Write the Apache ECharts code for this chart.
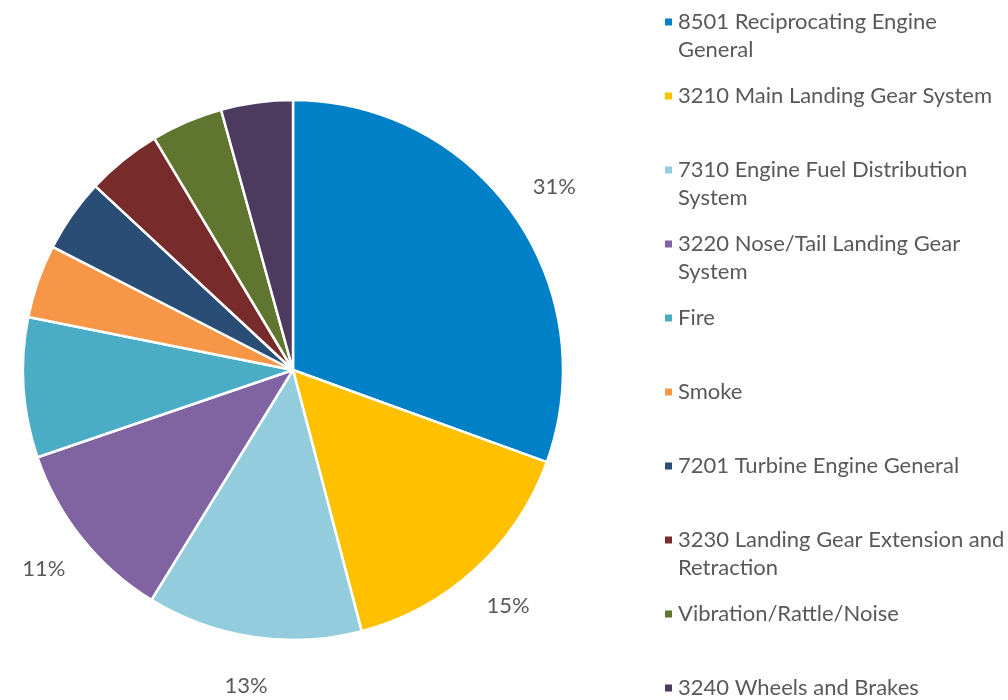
<!DOCTYPE html>
<html>
<head>
<meta charset="utf-8">
<script src="https://cdn.jsdelivr.net/npm/echarts@6/dist/echarts.min.js"></script>
<style>
  html, body { margin: 0; padding: 0; background: #fff; }
  #chart { width: 1008px; height: 700px; }
</style>
</head>
<body>
<div id="chart"></div>
<script>
const categories = [
  '8501 Reciprocating Engine General',
  '3210 Main Landing Gear System',
  '7310 Engine Fuel Distribution System',
  '3220 Nose/Tail Landing Gear System',
  'Fire',
  'Smoke',
  '7201 Turbine Engine General',
  '3230 Landing Gear Extension and Retraction',
  'Vibration/Rattle/Noise',
  '3240 Wheels and Brakes'
]
const shares = [30.6, 15.4, 12.9, 11.0, 8.4, 4.4, 4.4, 4.5, 4.3, 4.3]
const colors = ['#0080C6', '#FFC000', '#93CDDD', '#8064A2', '#4BACC6', '#F79646', '#2A4D75', '#772B2A', '#5F7530', '#4D3A5F']
// only the big slices carry a label
const labelled = [true, true, true, true, false, false, false, false, false, false]
// where the legend text wraps
const legendLines = [
  ['8501 Reciprocating Engine', 'General'],
  ['3210 Main Landing Gear System'],
  ['7310 Engine Fuel Distribution', 'System'],
  ['3220 Nose/Tail Landing Gear', 'System'],
  ['Fire'],
  ['Smoke'],
  ['7201 Turbine Engine General'],
  ['3230 Landing Gear Extension and', 'Retraction'],
  ['Vibration/Rattle/Noise'],
  ['3240 Wheels and Brakes']
]

const font = 'Lato, "Open Sans", sans-serif'
const center = [293, 370]
const chart = echarts.init(document.getElementById('chart'))

const option = {
  animation: false,
  legend: {
    orient: 'vertical',
    left: 658,
    top: -25,
    height: 900,
    icon: 'rect',
    itemWidth: 9,
    itemHeight: 9,
    itemGap: -10,
    selectedMode: false,
    // three lines per item, the first line of the name sits in the middle next to the marker
    formatter: function (name) {
      const lines = legendLines[categories.indexOf(name)]
      return ' \n' + lines[0] + '\n' + (lines[1] || ' ')
    },
    textStyle: {
      fontFamily: font,
      fontSize: 22,
      color: '#595959',
      lineHeight: 28
    }
  },
  series: [
    {
      type: 'pie',
      center: center,
      radius: 270,
      startAngle: 90,
      clockwise: true,
      silent: true,
      itemStyle: {
        borderColor: '#fff',
        borderWidth: 2.5
      },
      label: {show: false},
      labelLine: {show: false},
      data: categories.map(function (name, i) {
        return {name: name, value: shares[i], itemStyle: {color: colors[i]}}
      })
    },
    {
      // invisible ring around the pie, only used to put the centred percent labels
      type: 'pie',
      center: center,
      radius: [270, 362],
      startAngle: 90,
      clockwise: true,
      silent: true,
      itemStyle: {color: 'rgba(0,0,0,0)', borderWidth: 0},
      label: {
        position: 'inside',
        fontFamily: font,
        fontSize: 22,
        color: '#595959',
        formatter: function (p) {
          return Math.round(p.percent) + '%'
        }
      },
      labelLine: {show: false},
      data: categories.map(function (name, i) {
        return {name: name, value: shares[i], label: {show: labelled[i]}}
      })
    }
  ]
}

chart.setOption(option)
</script>
</body>
</html>
